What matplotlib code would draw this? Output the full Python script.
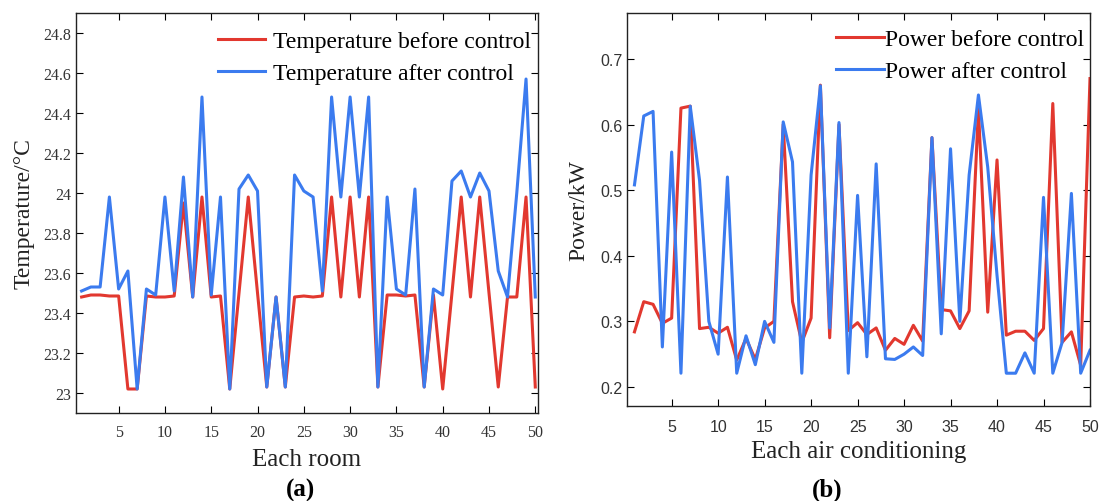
import matplotlib
matplotlib.use('Agg')
from matplotlib import pyplot as plt
from matplotlib.ticker import FormatStrFormatter

# 數據
rooms = list(range(1, 51))

temp_before = [23.48, 23.49, 23.49, 23.485, 23.485, 23.02, 23.02, 23.485, 23.48, 23.48,
               23.485, 23.95, 23.48, 23.98, 23.48, 23.485, 23.02, 23.5, 23.98, 23.5,
               23.03, 23.48, 23.03, 23.48, 23.485, 23.48, 23.485, 23.98, 23.48, 23.98,
               23.48, 23.98, 23.03, 23.49, 23.49, 23.485, 23.49, 23.03, 23.49, 23.02,
               23.5, 23.98, 23.48, 23.98, 23.5, 23.03, 23.48, 23.48, 23.98, 23.03]

temp_after = [23.51, 23.53, 23.53, 23.98, 23.52, 23.61, 23.02, 23.52, 23.49, 23.98,
              23.51, 24.08, 23.48, 24.48, 23.49, 23.98, 23.02, 24.02, 24.09, 24.01,
              23.03, 23.48, 23.03, 24.09, 24.01, 23.98, 23.51, 24.48, 23.98, 24.48,
              23.98, 24.48, 23.03, 23.98, 23.52, 23.49, 24.02, 23.03, 23.52, 23.49,
              24.06, 24.11, 23.98, 24.10, 24.01, 23.61, 23.48, 24.0, 24.57, 23.48]

power_before = [0.284, 0.330, 0.326, 0.297, 0.305, 0.625, 0.628, 0.289, 0.291, 0.282,
                0.291, 0.241, 0.274, 0.242, 0.290, 0.300, 0.600, 0.330, 0.268, 0.305,
                0.660, 0.275, 0.600, 0.286, 0.298, 0.280, 0.290, 0.256, 0.274, 0.265,
                0.294, 0.270, 0.580, 0.318, 0.316, 0.289, 0.316, 0.624, 0.314, 0.546,
                0.279, 0.285, 0.285, 0.271, 0.289, 0.632, 0.268, 0.284, 0.233, 0.670]

power_after = [0.508, 0.613, 0.620, 0.261, 0.558, 0.221, 0.628, 0.515, 0.300, 0.250,
               0.520, 0.221, 0.278, 0.234, 0.300, 0.268, 0.604, 0.543, 0.221, 0.523,
               0.659, 0.290, 0.603, 0.221, 0.492, 0.246, 0.540, 0.243, 0.242, 0.250,
               0.261, 0.248, 0.580, 0.281, 0.563, 0.300, 0.523, 0.645, 0.535, 0.370,
               0.221, 0.221, 0.252, 0.221, 0.489, 0.221, 0.268, 0.495, 0.221, 0.256]

red = '#e2382f'
blue = '#3b7bef'
serif = ['Liberation Serif', 'DejaVu Serif']
sans = ['Liberation Sans', 'DejaVu Sans']

fig = plt.figure(figsize=(10.99, 5.02), dpi=100)

# (a) 溫度
ax1 = fig.add_axes([0.0692, 0.1753, 0.4204, 0.7968])
ax1.plot(rooms, temp_before, color=red, lw=2.2, label='Temperature before control')
ax1.plot(rooms, temp_after, color=blue, lw=2.2, label='Temperature after control')
ax1.set_xlim(0.4, 50.3)
ax1.set_ylim(22.9, 24.9)
ax1.set_xticks(range(5, 51, 5))
ax1.set_yticks([23, 23.2, 23.4, 23.6, 23.8, 24, 24.2, 24.4, 24.6, 24.8])
ax1.yaxis.set_major_formatter(FormatStrFormatter('%g'))
for lab in ax1.get_xticklabels() + ax1.get_yticklabels():
	lab.set_family(serif)
	lab.set_fontsize(11.5)
	lab.set_color('#333333')
ax1.tick_params(axis='x', pad=8)
ax1.set_xlabel('Each room', family=serif, fontsize=18, color='#222222', labelpad=6)
ax1.set_ylabel('Temperature/°C', family=serif, fontsize=17, color='#222222', labelpad=6)
ax1.legend(loc='upper right', bbox_to_anchor=(1.024, 1.0), frameon=False,
		   prop={'family': serif, 'size': 17},
		   handlelength=2.0, handletextpad=0.35, labelspacing=0.45,
		   borderaxespad=0.35)

# (b) 功率
ax2 = fig.add_axes([0.5708, 0.1892, 0.421, 0.783])
ax2.plot(rooms, power_before, color=red, lw=2.2, label='Power before control')
ax2.plot(rooms, power_after, color=blue, lw=2.2, label='Power after control')
ax2.set_xlim(0.23, 50)
ax2.set_ylim(0.171, 0.77)
ax2.set_xticks(range(5, 51, 5))
ax2.set_yticks([0.2, 0.3, 0.4, 0.5, 0.6, 0.7])
for lab in ax2.get_xticklabels() + ax2.get_yticklabels():
	lab.set_family(sans)
	lab.set_fontsize(11.5)
	lab.set_color('#333333')
ax2.tick_params(axis='x', pad=9)
ax2.set_xlabel('Each air conditioning', family=serif, fontsize=18, color='#222222', labelpad=5)
ax2.set_ylabel('Power/kW', family=serif, fontsize=17, color='#222222', labelpad=8)
ax2.legend(loc='upper right', bbox_to_anchor=(1.02, 1.0), frameon=False,
		   prop={'family': serif, 'size': 17},
		   handlelength=2.0, handletextpad=0.05, labelspacing=0.45,
		   borderaxespad=0.25)

for ax in (ax1, ax2):
	ax.tick_params(direction='in', top=True, right=True, length=5, width=0.8)
	for s in ax.spines.values():
		s.set_linewidth(1.0)
		s.set_color('#222222')

fig.text(0.273, 0.01, '(a)', family=serif, fontsize=18, fontweight='bold', ha='center')
fig.text(0.753, 0.01, '(b)', family=serif, fontsize=18, fontweight='bold', ha='center')

fig.savefig('out.png', dpi=100)
